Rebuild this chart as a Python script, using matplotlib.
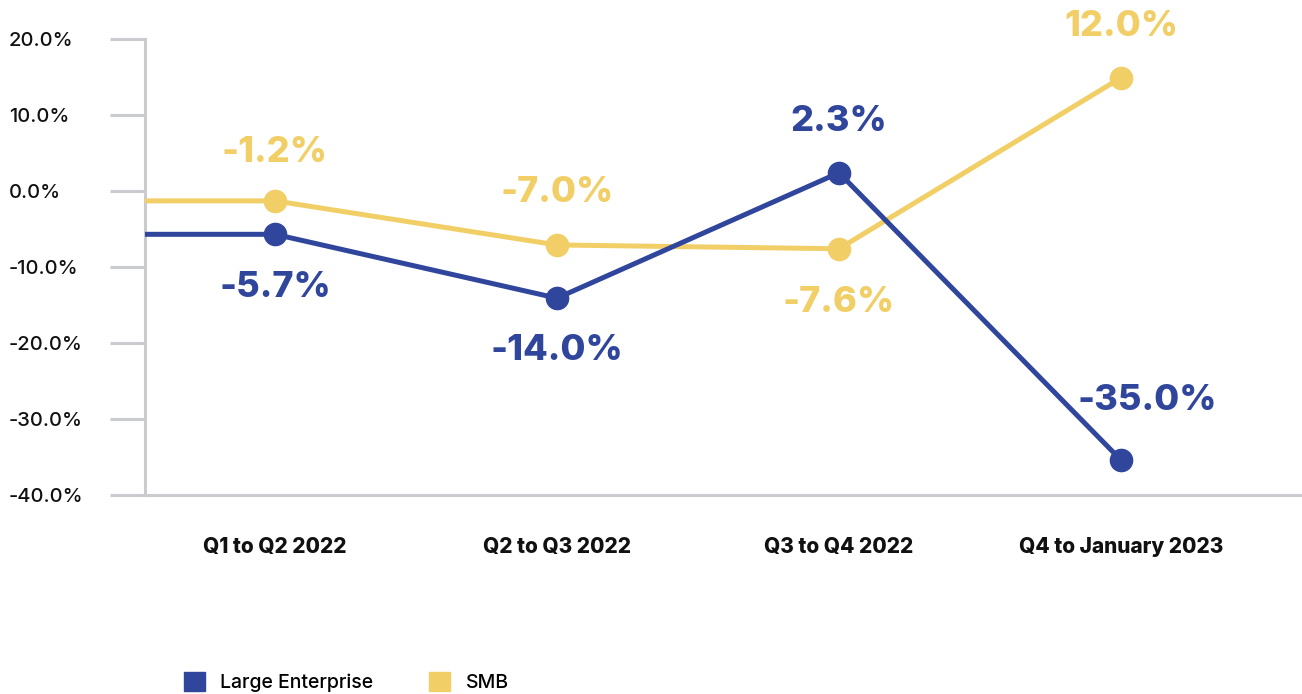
import matplotlib.pyplot as plt
from matplotlib.patches import Patch

# data
periods = ["Q1 to Q2 2022", "Q2 to Q3 2022", "Q3 to Q4 2022", "Q4 to January 2023"]
large = [-5.7, -14.1, 2.4, -35.4]
smb = [-1.3, -7.1, -7.6, 14.9]
large_labels = ["-5.7%", "-14.0%", "2.3%", "-35.0%"]
smb_labels = ["-1.2%", "-7.0%", "-7.6%", "12.0%"]

blue = "#30469C"
yellow = "#F1CF66"
grey = "#C9CBCE"

plt.rcParams["font.family"] = ["Inter", "DejaVu Sans"]

fig = plt.figure(figsize=(13.02, 6.94), dpi=100)
ax = fig.add_axes([145 / 1302, 1 - 495 / 694, 1 - 145 / 1302, (495 - 39) / 694])

x0, x1 = -0.461, 3.642
xs = list(range(len(periods)))

for vals, col, z in [(smb, yellow, 3), (large, blue, 4)]:
    # line runs in from the y axis at the first value
    ax.plot([x0] + xs, [vals[0]] + vals, color=col, lw=3.6, zorder=z,
            solid_capstyle="butt")
    ax.plot(xs, vals, "o", color=col, ms=16, zorder=z)

# data labels: (dx, dy) offsets in points
large_off = [(0, -38), (0, -38), (0, 37), (19, 43)]
smb_off = [(0, 35), (0, 38), (0, -39), (0, 37)]
for vals, labs, offs, col in [(large, large_labels, large_off, blue),
                              (smb, smb_labels, smb_off, yellow)]:
    for i, (v, t) in enumerate(zip(vals, labs)):
        ax.annotate(t, (i, v), xytext=offs[i], textcoords="offset points",
                    ha="center", va="center", fontsize=26, fontweight=800,
                    color=col, clip_on=False, annotation_clip=False)

ax.set_xlim(x0, x1)
ax.set_ylim(-40, 20)
ax.set_yticks(range(-40, 21, 10))
ax.set_yticklabels([f"{t:.1f}%" for t in range(-40, 21, 10)])
ax.set_xticks(xs)
ax.set_xticklabels(periods, fontweight=800)

for s in ["top", "right"]:
    ax.spines[s].set_visible(False)
for s in ["left", "bottom"]:
    ax.spines[s].set_color(grey)
    ax.spines[s].set_linewidth(2.2)
ax.tick_params(axis="y", length=25, width=2.2, color=grey, pad=73,
               labelsize=14.5, labelcolor="#111111")
ax.tick_params(axis="x", length=0, pad=30, labelsize=15, labelcolor="#111111")
for lab in ax.get_yticklabels():
    lab.set_fontweight(500)
    lab.set_horizontalalignment("left")

handles = [Patch(color=blue, label="Large Enterprise"), Patch(color=yellow, label="SMB")]
fig.legend(handles=handles, loc="center left", bbox_to_anchor=(184 / 1302, 12 / 694),
           ncol=2, frameon=False, prop={"size": 14, "weight": 500},
           handlelength=1.08, handleheight=1.08, handletextpad=0.77,
           columnspacing=2.9, borderaxespad=0, borderpad=0)

fig.savefig("out.png", dpi=100)
